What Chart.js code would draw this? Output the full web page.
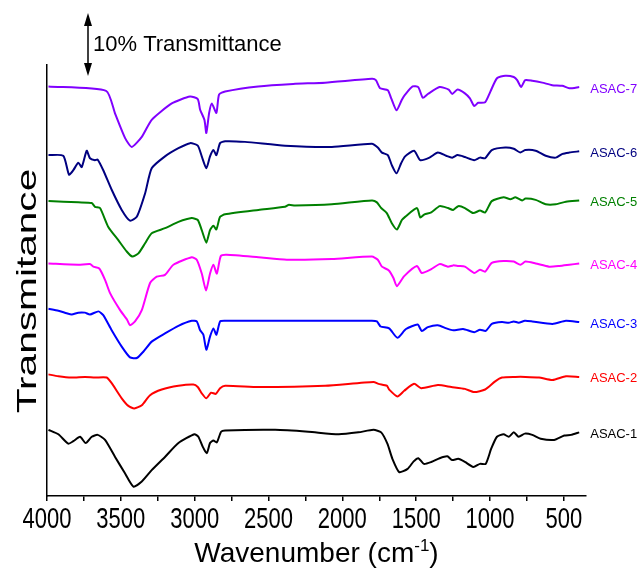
<!DOCTYPE html>
<html>
<head>
<meta charset="utf-8">
<script src="https://cdn.jsdelivr.net/npm/chart.js@4"></script>
<style>
  html, body { margin: 0; padding: 0; background: #fff; }
  canvas { display: block; }
</style>
</head>
<body>
<canvas id="ftirChart" width="643" height="573"></canvas>
<script>
// wavenumber (cm-1) / offset transmittance (%)
const asac7 = [[3990,65.0],[3600,64.3],[3539,60.7],[3471,56.8],[3426,55.4],[3358,57.0],[3291,59.7],[3155,62.3],[3031,63.4],[2979,63.0],[2963,61.3],[2934,59.7],[2921,57.6],[2902,60.8],[2884,62.3],[2853,60.8],[2835,63.7],[2794,64.2],[2570,65.0],[2333,65.4],[2117,65.6],[1800,66.2],[1773,66.0],[1744,64.7],[1692,64.4],[1669,63.1],[1633,61.2],[1597,62.9],[1575,63.7],[1524,65.0],[1486,64.9],[1455,63.2],[1421,63.8],[1341,64.9],[1280,64.5],[1256,63.8],[1220,64.5],[1170,63.9],[1136,63.1],[1107,61.9],[1080,62.4],[1033,62.5],[999,64.1],[953,66.3],[897,66.7],[839,66.5],[816,66.0],[789,64.9],[762,66.0],[714,65.9],[646,65.6],[579,65.2],[511,65.1],[463,64.7],[396,64.9]];
const asac6 = [[3990,54.1],[3890,54.0],[3851,51.0],[3822,51.7],[3788,52.9],[3765,52.2],[3731,54.8],[3709,53.6],[3675,53.3],[3657,53.4],[3619,51.7],[3562,48.6],[3494,45.4],[3438,43.7],[3392,44.3],[3336,48.0],[3291,52.0],[3201,53.9],[3110,55.2],[3031,56.0],[2979,55.6],[2952,53.9],[2921,52.0],[2896,53.9],[2873,54.9],[2853,54.1],[2828,56.0],[2794,56.3],[2659,56.2],[2388,55.6],[2071,55.4],[1800,55.9],[1760,55.3],[1732,54.5],[1692,54.1],[1665,52.5],[1633,51.2],[1602,52.8],[1575,53.9],[1514,54.8],[1473,53.3],[1410,53.7],[1353,54.5],[1297,54.0],[1256,53.7],[1220,54.1],[1170,53.8],[1107,53.3],[1068,53.7],[1033,53.6],[988,54.9],[897,55.3],[839,55.1],[795,54.5],[762,54.9],[691,54.8],[623,54.0],[554,53.7],[509,54.3],[463,54.5],[396,54.7]];
const asac5 = [[3990,46.8],[3788,46.6],[3697,46.5],[3675,45.9],[3641,45.7],[3585,42.7],[3517,40.6],[3460,38.8],[3422,38.0],[3381,38.5],[3336,40.1],[3291,41.7],[3201,42.5],[3110,43.5],[3020,44.1],[2979,43.8],[2952,42.2],[2921,40.2],[2896,42.2],[2873,42.9],[2853,42.3],[2828,44.3],[2794,44.7],[2568,45.4],[2388,45.9],[2365,46.2],[2320,46.1],[2071,46.3],[1800,46.9],[1766,46.6],[1737,45.7],[1699,44.9],[1665,43.3],[1630,42.3],[1597,43.8],[1575,44.3],[1495,45.7],[1472,44.2],[1444,44.7],[1398,45.0],[1341,46.0],[1285,45.7],[1250,45.4],[1215,46.0],[1170,45.7],[1114,44.9],[1068,45.3],[1033,45.0],[988,46.8],[908,47.4],[862,47.1],[828,47.4],[782,46.9],[760,47.2],[691,47.0],[623,46.3],[554,46.3],[486,46.7],[396,46.9]];
const asac4 = [[3990,36.9],[3788,36.7],[3709,36.8],[3686,36.4],[3646,36.1],[3607,34.3],[3573,32.2],[3505,29.5],[3456,27.9],[3438,27.1],[3404,27.7],[3358,29.5],[3302,33.8],[3257,34.8],[3201,35.1],[3144,36.7],[3020,37.9],[2986,37.5],[2952,35.3],[2923,32.6],[2896,35.3],[2873,36.7],[2850,35.3],[2823,38.1],[2783,38.3],[2568,37.9],[2376,37.5],[2071,37.6],[1800,38.0],[1760,37.5],[1732,36.4],[1685,35.8],[1654,34.6],[1631,33.3],[1581,34.9],[1495,36.5],[1462,35.4],[1398,36.0],[1341,36.8],[1285,36.4],[1250,36.6],[1215,36.5],[1170,36.4],[1107,35.4],[1068,35.9],[1033,35.6],[988,37.0],[908,37.3],[839,37.2],[794,36.7],[760,37.2],[691,36.9],[600,36.4],[531,36.5],[463,36.7],[396,36.9]];
const asac3 = [[3990,29.7],[3923,29.4],[3867,29.0],[3833,28.8],[3788,29.1],[3743,29.1],[3709,28.8],[3652,29.3],[3619,28.7],[3562,26.3],[3494,23.7],[3438,22.0],[3392,21.9],[3348,22.9],[3291,24.5],[3201,25.8],[3110,27.0],[3020,27.8],[2986,27.7],[2963,26.3],[2941,25.6],[2921,23.2],[2896,25.3],[2873,26.6],[2853,25.6],[2828,27.7],[2794,27.8],[2342,27.8],[1800,27.8],[1766,27.7],[1741,26.9],[1683,26.6],[1627,25.1],[1569,26.5],[1490,27.2],[1462,26.2],[1421,26.8],[1353,27.1],[1295,26.6],[1250,26.3],[1182,26.5],[1107,26.0],[1068,26.4],[1029,26.2],[988,27.3],[919,27.6],[873,27.5],[839,27.7],[806,27.5],[764,27.8],[714,27.7],[577,27.3],[486,27.8],[396,27.6]];
const asac2 = [[3990,19.3],[3923,19.0],[3833,18.8],[3743,18.9],[3675,18.8],[3596,18.8],[3562,17.9],[3494,15.5],[3449,14.3],[3409,13.9],[3358,14.4],[3302,16.0],[3223,16.9],[3110,17.5],[3009,17.7],[2979,17.3],[2952,16.3],[2921,15.5],[2889,16.4],[2857,16.2],[2828,17.1],[2794,17.5],[2568,17.3],[2117,17.5],[1789,18.1],[1755,17.8],[1699,17.5],[1683,16.9],[1627,15.8],[1581,16.7],[1514,17.8],[1466,17.1],[1353,17.6],[1262,17.3],[1170,17.0],[1107,16.5],[1033,16.9],[965,18.2],[919,18.8],[828,18.9],[760,18.9],[668,18.8],[577,18.4],[486,19.0],[396,18.9]];
const asac1 = [[3990,10.5],[3923,9.8],[3856,8.3],[3822,8.7],[3776,9.4],[3738,8.4],[3697,9.4],[3657,9.7],[3607,8.9],[3539,6.2],[3472,3.6],[3415,1.5],[3358,2.3],[3291,4.1],[3201,6.2],[3110,8.4],[3002,9.8],[2975,9.4],[2945,7.8],[2918,6.8],[2896,8.4],[2873,8.8],[2850,8.5],[2821,10.2],[2794,10.4],[2455,10.5],[2230,10.2],[2026,9.8],[1891,10.1],[1789,10.5],[1737,10.1],[1695,8.3],[1661,5.9],[1615,3.8],[1558,4.3],[1517,5.5],[1485,6.0],[1448,5.1],[1398,5.4],[1341,6.0],[1289,6.3],[1257,5.7],[1215,5.9],[1170,5.4],[1113,4.6],[1068,5.1],[1029,5.1],[992,7.5],[953,9.4],[908,9.8],[873,9.4],[839,10.1],[806,9.4],[764,9.9],[714,9.7],[657,9.1],[566,8.9],[497,9.6],[452,9.7],[396,10.1]];

const seriesNames = ['ASAC-7', 'ASAC-6', 'ASAC-5', 'ASAC-4', 'ASAC-3', 'ASAC-2', 'ASAC-1'];
const seriesData = [asac7, asac6, asac5, asac4, asac3, asac2, asac1];
const seriesColors = ['#8000ff', '#000080', '#008000', '#ff00ff', '#0000ff', '#ff0000', '#000000'];

const xTicks = [4000, 3750, 3500, 3250, 3000, 2750, 2500, 2250, 2000, 1750, 1500, 1250, 1000, 750, 500];
const xTickLabels = [4000, 3500, 3000, 2500, 2000, 1500, 1000, 500];
const xMin = 350, xMax = 4000;
const yMin = 0, yMax = 68.4;
const scaleBar = 10; // 10% transmittance

const FONT = '"Liberation Sans", Arial, sans-serif';

const annotate = {
  id: 'annotate',
  afterDraw(chart) {
    const { ctx, scales: { x, y } } = chart;
    ctx.save();

    // series names at the right end of each trace
    ctx.font = '13px ' + FONT;
    ctx.textAlign = 'left';
    ctx.textBaseline = 'middle';
    chart.data.datasets.forEach(ds => {
      const last = ds.data[ds.data.length - 1];
      ctx.fillStyle = ds.borderColor;
      ctx.fillText(ds.label, x.getPixelForValue(last.x) + 11, y.getPixelForValue(last.y) + 2);
    });

    // x tick labels (the original font is drawn a bit taller than wide)
    ctx.fillStyle = '#000';
    ctx.font = '22px ' + FONT;
    ctx.textAlign = 'center';
    ctx.textBaseline = 'middle';
    xTickLabels.forEach(v => {
      ctx.save();
      ctx.translate(x.getPixelForValue(v), 520);
      ctx.scale(1, 1.3);
      ctx.fillText(String(v), 0, 0);
      ctx.restore();
    });

    // 10% scale bar
    const ax = 88, top = 13;
    const len = y.getPixelForValue(0) - y.getPixelForValue(scaleBar);
    ctx.strokeStyle = '#000';
    ctx.lineWidth = 1.5;
    ctx.beginPath();
    ctx.moveTo(ax, top + 8);
    ctx.lineTo(ax, top + len - 8);
    ctx.stroke();
    ctx.beginPath();
    ctx.moveTo(ax, top); ctx.lineTo(ax - 4, top + 13); ctx.lineTo(ax + 4, top + 13); ctx.closePath();
    ctx.fill();
    ctx.beginPath();
    ctx.moveTo(ax, top + len); ctx.lineTo(ax - 4, top + len - 13); ctx.lineTo(ax + 4, top + len - 13); ctx.closePath();
    ctx.fill();
    ctx.font = '22px ' + FONT;
    ctx.textAlign = 'left';
    ctx.fillText('10% Transmittance', 93, top + len / 2);

    // x axis title
    ctx.font = '28px ' + FONT;
    ctx.textBaseline = 'alphabetic';
    const main = 'Wavenumber (cm';
    const sup = '-1';
    const close = ')';
    const wMain = ctx.measureText(main).width;
    const wClose = ctx.measureText(close).width;
    ctx.font = '17px ' + FONT;
    const wSup = ctx.measureText(sup).width;
    const cx = (chart.chartArea.left + chart.chartArea.right) / 2;
    const tx = cx - (wMain + wSup + wClose) / 2;
    const base = 562;
    ctx.font = '28px ' + FONT;
    ctx.fillText(main, tx, base);
    ctx.font = '17px ' + FONT;
    ctx.fillText(sup, tx + wMain, base - 11);
    ctx.font = '28px ' + FONT;
    ctx.fillText(close, tx + wMain + wSup, base);

    // y axis title
    ctx.translate(28, 291);
    ctx.rotate(-Math.PI / 2);
    ctx.scale(1.45, 1);
    ctx.textAlign = 'center';
    ctx.textBaseline = 'middle';
    ctx.fillText('Transmitance', 0, 0);
    ctx.restore();
  }
};

new Chart(document.getElementById('ftirChart'), {
  type: 'line',
  data: {
    datasets: seriesNames.map((name, i) => ({
      label: name,
      data: seriesData[i].map(p => ({ x: p[0], y: p[1] })),
      borderColor: seriesColors[i],
      borderWidth: 2,
      pointRadius: 0,
      tension: 0.2,
      fill: false
    }))
  },
  options: {
    responsive: false,
    animation: false,
    devicePixelRatio: 1,
    layout: { padding: { top: 65, right: 57, left: 0, bottom: 0 } },
    plugins: { legend: { display: false }, tooltip: { enabled: false } },
    scales: {
      x: {
        type: 'linear',
        reverse: true,
        min: xMin,
        max: xMax,
        afterBuildTicks: s => { s.ticks = xTicks.map(v => ({ value: v })); },
        afterFit: s => { s.height = 77; },
        grid: { drawOnChartArea: false, drawTicks: true, tickLength: 5, color: '#000', lineWidth: 1.5 },
        border: { display: true, color: '#000', width: 1.5 },
        ticks: { display: false }
      },
      y: {
        min: yMin,
        max: yMax,
        afterFit: s => { s.width = 47; },
        grid: { display: false, drawTicks: false },
        border: { display: true, color: '#000', width: 1.5 },
        ticks: { display: false }
      }
    }
  },
  plugins: [annotate]
});
</script>
</body>
</html>
